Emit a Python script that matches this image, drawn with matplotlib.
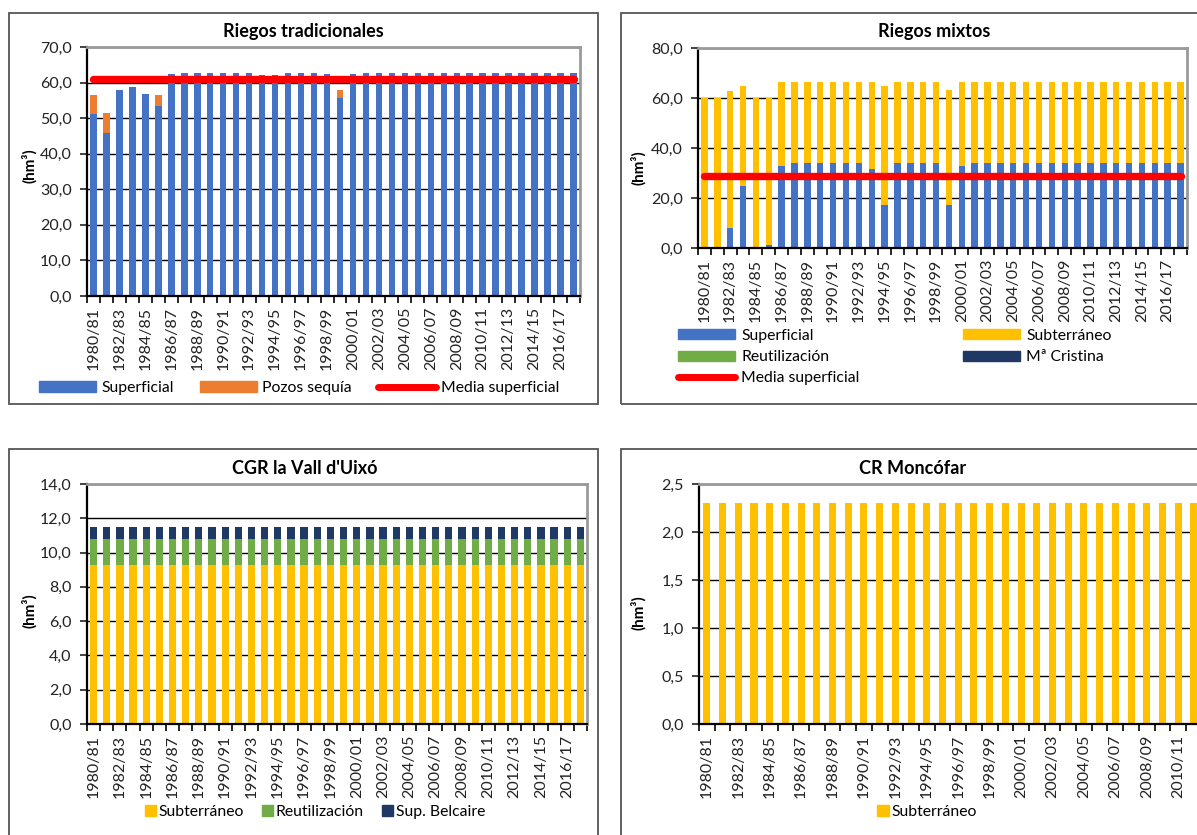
import numpy as np
import matplotlib
matplotlib.use("Agg")
import matplotlib.pyplot as plt
from matplotlib.patches import Rectangle, Patch
from matplotlib.lines import Line2D
from matplotlib.ticker import FuncFormatter, MultipleLocator

plt.rcParams['font.family'] = ['Lato', 'DejaVu Sans']

# campañas hidrológicas
campaigns = ["1980/81", "1981/82", "1982/83", "1983/84", "1984/85", "1985/86",
             "1986/87", "1987/88", "1988/89", "1989/90", "1990/91", "1991/92",
             "1992/93", "1993/94", "1994/95", "1995/96", "1996/97", "1997/98",
             "1998/99", "1999/00", "2000/01", "2001/02", "2002/03", "2003/04",
             "2004/05", "2005/06", "2006/07", "2007/08", "2008/09", "2009/10",
             "2010/11", "2011/12", "2012/13", "2013/14", "2014/15", "2015/16",
             "2016/17", "2017/18"]

# Riegos tradicionales (hm3)
trad_superficial = [51.2, 45.9, 58.0, 58.7, 56.8, 53.3, 62.4, 62.7, 62.7, 62.7,
                    62.7, 62.7, 62.7, 62.2, 62.2, 62.6, 62.7, 62.6, 62.4, 55.8,
                    62.4, 62.7, 62.7, 62.7, 62.7, 62.7, 62.7, 62.7, 62.7, 62.7,
                    62.7, 62.7, 62.7, 62.7, 62.7, 62.7, 62.7, 62.7]
trad_pozos = [5.2, 5.6, 0, 0, 0, 3.3, 0, 0, 0, 0, 0, 0, 0, 0, 0, 0, 0, 0, 0, 2.2,
              0, 0, 0, 0, 0, 0, 0, 0, 0, 0, 0, 0, 0, 0, 0, 0, 0, 0]
trad_media = 61.0

# Riegos mixtos (hm3)
mix_superficial = [0, 0, 8.1, 24.9, 0, 1.1, 33.0, 34.2, 34.2, 34.2, 34.2, 34.2,
                   34.2, 31.5, 17.1, 34.2, 34.2, 34.2, 34.2, 17.1, 33.0, 34.2,
                   34.2, 34.2, 34.2, 34.2, 34.2, 34.2, 34.2, 34.2, 34.2, 34.2,
                   34.2, 34.2, 34.2, 34.2, 34.2, 34.2]
mix_subterraneo = [60.0, 60.0, 54.8, 39.8, 60.0, 58.9, 33.3, 32.1, 32.1, 32.1,
                   32.1, 32.1, 32.1, 34.8, 47.6, 32.1, 32.1, 32.1, 32.1, 46.0,
                   33.3, 32.1, 32.1, 32.1, 32.1, 32.1, 32.1, 32.1, 32.1, 32.1,
                   32.1, 32.1, 32.1, 32.1, 32.1, 32.1, 32.1, 32.1]
mix_reutilizacion = [0.0] * 38
mix_cristina = [0.0] * 38
mix_media = 29.0

# CGR la Vall d'Uixó (hm3)
vall_subterraneo = [9.3] * 38
vall_reutilizacion = [1.5] * 38
vall_belcaire = [0.7] * 38

# CR Moncófar (hm3)
monc_subterraneo = [2.3] * 38

C_SUP = '#4472C4'
C_POZ = '#ED7D31'
C_SUB = '#FFC000'
C_REU = '#70AD47'
C_NAVY = '#1F3864'
C_RED = '#FF0000'

FS_TICK = 11.5
FS_LEG = 11.3

W, H = 1197, 835
fig = plt.figure(figsize=(W / 100, H / 100), dpi=100)


def px(x0, y0, x1, y1):
    return [x0 / W, 1 - y1 / H, (x1 - x0) / W, (y1 - y0) / H]


def panel(x0, y0, x1, y1):
    fig.add_artist(Rectangle((x0 / W, 1 - y1 / H), (x1 - x0) / W, (y1 - y0) / H,
                             transform=fig.transFigure, fill=False,
                             edgecolor='#555555', lw=1.3))


def fmt(v, p):
    return f"{v:.1f}".replace('.', ',')


def style(ax, ymax, step, nlab=None):
    n = len(campaigns)
    nlab = nlab or n
    ax.set_xlim(-0.5, n - 0.5)
    ax.set_ylim(0, ymax)
    ax.yaxis.set_major_locator(MultipleLocator(step))
    ax.yaxis.set_major_formatter(FuncFormatter(fmt))
    ax.grid(axis='y', color='black', lw=1.0)
    ax.set_axisbelow(True)
    ax.set_xticks(range(0, nlab, 2))
    ax.set_xticklabels(campaigns[:nlab:2], rotation=90)
    ax.set_xticks(np.arange(-0.5, n), minor=True)
    ax.tick_params(axis='x', which='major', length=0, pad=8, labelsize=FS_TICK,
                   colors='#222222')
    ax.tick_params(axis='x', which='minor', length=5, width=1.2)
    ax.tick_params(axis='y', length=5, width=1.2, pad=6, labelsize=FS_TICK,
                   colors='#222222')
    for s in ['left', 'bottom']:
        ax.spines[s].set_color('black')
        ax.spines[s].set_linewidth(1.6)
    for s in ['top', 'right']:
        ax.spines[s].set_color('#9a9a9a')
        ax.spines[s].set_linewidth(2.0)


def ylab(x, y):
    fig.text(x / W, 1 - y / H, '(hm³)', rotation=90, ha='center', va='center',
             fontsize=11, fontweight='bold')


def title(x, y, s):
    fig.text(x / W, 1 - y / H, s, ha='center', va='center', fontsize=13,
             fontweight='bold')


x = np.arange(len(campaigns))

# ---- Riegos tradicionales
panel(9, 13, 598, 404)
ax1 = fig.add_axes(px(87, 47, 580, 296))
ax1.bar(x, trad_superficial, 0.5, color=C_SUP)
ax1.bar(x, trad_pozos, 0.5, bottom=trad_superficial, color=C_POZ)
ax1.plot([x[0], x[-1]], [trad_media, trad_media], color=C_RED, lw=5.3,
         solid_capstyle='round')
style(ax1, 70, 10)
title(303, 31, 'Riegos tradicionales')
ylab(29, 166)
h1 = [Patch(color=C_SUP), Patch(color=C_POZ),
      Line2D([], [], color=C_RED, lw=5, solid_capstyle='round')]
fig.legend(h1, ['Superficial', 'Pozos sequía', 'Media superficial'], ncol=3,
           loc='center', bbox_to_anchor=(299 / W, 1 - 388 / H), frameon=False,
           fontsize=FS_LEG, handlelength=3.65, handleheight=0.65,
           handletextpad=0.32, columnspacing=1.67, borderpad=0)

# ---- Riegos mixtos
panel(621, 13, 1230, 404)
ax2 = fig.add_axes(px(698, 48, 1187, 248))
ax2.bar(x, mix_superficial, 0.5, color=C_SUP)
b2 = np.array(mix_superficial)
ax2.bar(x, mix_subterraneo, 0.5, bottom=b2, color=C_SUB)
b2 = b2 + np.array(mix_subterraneo)
ax2.bar(x, mix_reutilizacion, 0.5, bottom=b2, color=C_REU)
b2 = b2 + np.array(mix_reutilizacion)
ax2.bar(x, mix_cristina, 0.5, bottom=b2, color=C_NAVY)
ax2.plot([x[0], x[-1]], [mix_media, mix_media], color=C_RED, lw=5.3,
         solid_capstyle='round')
style(ax2, 80, 20)
title(934, 31, 'Riegos mixtos')
ylab(638, 168)
h2 = [Patch(color=C_SUP), Patch(color=C_REU),
      Line2D([], [], color=C_RED, lw=5, solid_capstyle='round'),
      Patch(color=C_SUB), Patch(color=C_NAVY)]
fig.legend(h2, ['Superficial', 'Reutilización', 'Media superficial',
                'Subterráneo', 'Mª Cristina'], ncol=2,
           loc='upper left', bbox_to_anchor=(678 / W, 1 - 329 / H), frameon=False,
           fontsize=FS_LEG, handlelength=3.65, handleheight=0.6,
           handletextpad=0.38, columnspacing=6.6, labelspacing=0.45,
           borderpad=0, borderaxespad=0)

# ---- CGR la Vall d'Uixó
panel(9, 449, 598, 860)
ax3 = fig.add_axes(px(87, 484, 587, 724))
ax3.bar(x, vall_subterraneo, 0.55, color=C_SUB)
b3 = np.array(vall_subterraneo)
ax3.bar(x, vall_reutilizacion, 0.55, bottom=b3, color=C_REU)
b3 = b3 + np.array(vall_reutilizacion)
ax3.bar(x, vall_belcaire, 0.55, bottom=b3, color=C_NAVY)
style(ax3, 14, 2)
title(305, 469, "CGR la Vall d'Uixó")
ylab(29, 611)
h3 = [Patch(color=C_SUB), Patch(color=C_REU), Patch(color=C_NAVY)]
fig.legend(h3, ['Subterráneo', 'Reutilización', 'Sup. Belcaire'], ncol=3,
           loc='center', bbox_to_anchor=(315 / W, 1 - 812 / H), frameon=False,
           fontsize=FS_LEG, handlelength=0.73, handleheight=0.73,
           handletextpad=0.15, columnspacing=1.15, borderpad=0)

# ---- CR Moncófar (el gráfico continúa fuera del recorte)
panel(621, 449, 1300, 860)
ax4 = fig.add_axes(px(699, 484, 1296, 724))
ax4.bar(x, monc_subterraneo, 0.45, color=C_SUB)
style(ax4, 2.5, 0.5, nlab=31)
title(913, 469, 'CR Moncófar')
ylab(638, 613)
fig.legend([Patch(color=C_SUB)], ['Subterráneo'], loc='center',
           bbox_to_anchor=(927 / W, 1 - 812 / H), frameon=False, fontsize=FS_LEG,
           handlelength=0.73, handleheight=0.73, handletextpad=0.15, borderpad=0)

fig.savefig('out.png', dpi=100)
